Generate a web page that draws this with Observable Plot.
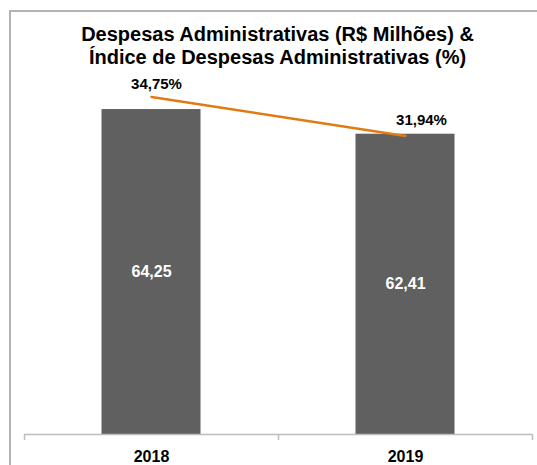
<!DOCTYPE html>
<html>
<head>
<meta charset="utf-8">
<script src="https://cdn.jsdelivr.net/npm/d3@7"></script>
<script src="https://cdn.jsdelivr.net/npm/@observablehq/plot@0.6"></script>
<style>
  html, body { margin: 0; padding: 0; background: #fff; }
  body { width: 537px; height: 465px; overflow: hidden; position: relative; font-family: "Liberation Sans", Arial, sans-serif; }
  #frame { position: absolute; left: 9px; top: 10px; width: 700px; height: 700px; border-left: 2px solid #b3b3b3; border-top: 2px solid #b3b3b3; box-sizing: border-box; }
  #title { position: absolute; left: 9px; width: 537px; top: 23px; text-align: center; font-weight: bold; font-size: 20px; line-height: 23px; color: #000; }
  #chart { position: absolute; left: 0; top: 0; }
</style>
</head>
<body>
<div id="frame"></div>
<div id="chart"></div>
<div id="title">Despesas Administrativas (R$ Milhões) &amp;<br>Índice de Despesas Administrativas (%)</div>
<script>
const categories = ["2018", "2019"];
const despesas = [64.25, 62.41];
const despesasLabels = ["64,25", "62,41"];
const indice = [34.75, 31.94];
const indiceLabels = ["34,75%", "31,94%"];

// primary axis (bars) and secondary axis (line) domains
const primaryDomain = [40, 70];
const secondaryDomain = [10.4, 39.4];
const toPrimary = s => primaryDomain[0] + (s - secondaryDomain[0]) * (primaryDomain[1] - primaryDomain[0]) / (secondaryDomain[1] - secondaryDomain[0]);

const bars = categories.map((c, i) => ({cat: c, value: despesas[i], label: despesasLabels[i]}));
const line = categories.map((c, i) => ({cat: c, value: toPrimary(indice[i]), label: indiceLabels[i]}));

const W = 537, H = 465;
const mL = 24, mR = 5, mT = 32, mB = 31;
const halfStep = (W - mL - mR) / categories.length / 2;
const barWidth = 99;
const inset = halfStep - barWidth / 2;
const font = "'Liberation Sans', Arial, sans-serif";

const chart = Plot.plot({
  width: W,
  height: H,
  marginLeft: mL,
  marginRight: mR,
  marginTop: mT,
  marginBottom: mB,
  style: {fontFamily: font, background: "transparent", overflow: "visible"},
  x: {domain: categories, padding: 0, axis: null},
  y: {domain: primaryDomain, axis: null},
  marks: [
    Plot.barY(bars, {x: "cat", y1: primaryDomain[0], y2: "value", fill: "#606060", insetLeft: inset, insetRight: inset}),
    Plot.ruleY([primaryDomain[0]], {stroke: "#bdbdbd", strokeWidth: 1.5}),
    Plot.ruleX(categories, {x: d => d, dx: -halfStep, y1: primaryDomain[0], y2: primaryDomain[0] - 0.45, stroke: "#bdbdbd", strokeWidth: 1.5}),
    Plot.ruleX(categories.slice(-1), {x: d => d, dx: halfStep, y1: primaryDomain[0], y2: primaryDomain[0] - 0.45, stroke: "#bdbdbd", strokeWidth: 1.5}),
    Plot.text(categories, {x: d => d, frameAnchor: "bottom", dy: 22, lineAnchor: "middle", text: d => d, fontSize: 16, fontWeight: "bold", fill: "#000"}),
    Plot.text(bars, {x: "cat", y: d => (primaryDomain[0] + d.value) / 2, text: "label", fill: "#fff", fontSize: 16, fontWeight: "bold"}),
    Plot.line(line, {x: "cat", y: "value", stroke: "#e07b12", strokeWidth: 2.5}),
    Plot.text(line.slice(0, 1), {x: "cat", y: "value", text: "label", dx: 5, dy: -13, fontSize: 15, fontWeight: "bold", fill: "#000"}),
    Plot.text(line.slice(1), {x: "cat", y: "value", text: "label", dx: 16, dy: -16, fontSize: 15, fontWeight: "bold", fill: "#000"})
  ]
});
document.getElementById("chart").appendChild(chart);
</script>
</body>
</html>
